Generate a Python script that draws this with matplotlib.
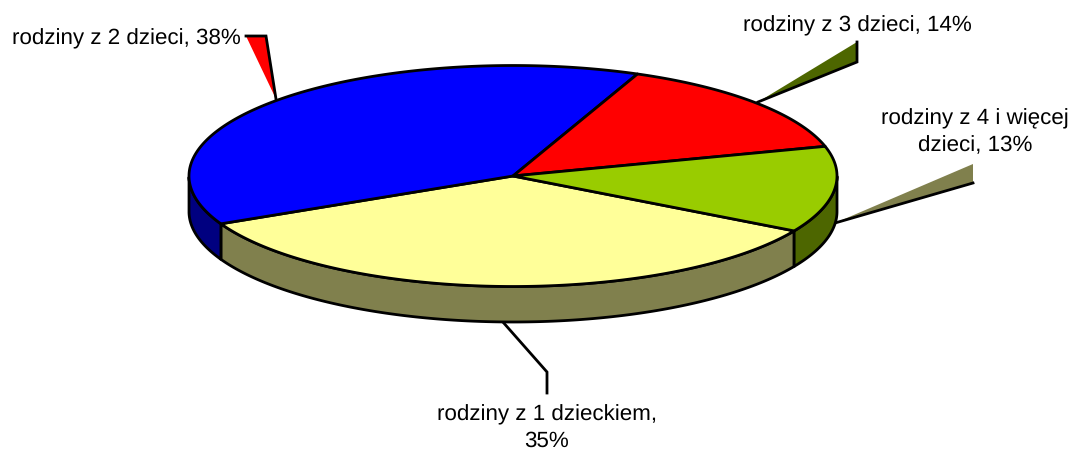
import numpy as np
import matplotlib
matplotlib.use("Agg")
import matplotlib.pyplot as plt

# Data (clockwise from the first slice)
categories = ["rodziny z 1 dzieckiem", "rodziny z 2 dzieci", "rodziny z 3 dzieci", "rodziny z 4 i więcej dzieci"]
shares = [34.6, 38.4, 14.4, 12.6]
labels = ["rodziny z 1 dzieckiem,\n35%", "rodziny z 2 dzieci, 38%", "rodziny z 3 dzieci, 14%", "rodziny z 4 i więcej\ndzieci, 13%"]
top_colors = ["#FFFF99", "#0000FF", "#FF0000", "#99CC00"]
side_colors = ["#80804D", "#000080", "#800000", "#4D6600"]

# Geometry in pixels
W, H = 1072, 450
CX, CY, RX, RY, DEPTH = 513, 176, 324, 110.5, 35.5
START = -29.8
EDGE = 2.0

plt.rcParams["font.family"] = ["Liberation Sans", "DejaVu Sans"]
plt.rcParams["text.hinting"] = "no_hinting"
plt.rcParams["text.hinting_factor"] = 8
fig = plt.figure(figsize=(W / 100, H / 100), dpi=100)
ax = fig.add_axes([0, 0, 1, 1])
ax.set_xlim(0, W)
ax.set_ylim(H, 0)
ax.axis("off")


def px(deg, drop=0):
    a = np.radians(deg)
    return CX + RX * np.cos(a), CY - RY * np.sin(a) + drop


# Leader callouts
ax.fill([246, 266, 276], [36, 36, 99], color="#FF0000", lw=0, zorder=1)
ax.plot([246, 266, 276], [36, 36, 99], color="k", lw=EDGE, zorder=1, solid_joinstyle="miter")
ax.fill([758, 857, 857], [102, 42, 62], color="#4D6600", lw=0, zorder=1)
ax.plot([857, 857, 758], [42, 62, 102], color="k", lw=EDGE, zorder=1, solid_joinstyle="miter")
ax.fill([835, 973, 973], [223, 164, 183], color="#80804D", lw=0, zorder=1)
ax.plot([973, 835], [183, 223], color="k", lw=EDGE, zorder=1)
ax.plot([502, 547, 547], [321, 372, 393], color="k", lw=EDGE, zorder=1, solid_joinstyle="miter")

# Slices
angle = START
spans = []
for share in shares:
    sweep = share / sum(shares) * 360
    spans.append((angle, angle - sweep))
    angle -= sweep

# Side walls (front half only, sin < 0)
for (a0, a1), side in zip(spans, side_colors):
    degs = np.linspace(a1, a0, 200)
    s = np.sin(np.radians(degs))
    degs = degs[s <= 0]
    if len(degs) < 2:
        continue
    tx, ty = px(degs)
    bx, by = px(degs, DEPTH)
    ax.fill(np.r_[tx, bx[::-1]], np.r_[ty, by[::-1]], facecolor=side, edgecolor="k",
            lw=EDGE, zorder=2, joinstyle="round")

# Top faces
for (a0, a1), top in zip(spans, top_colors):
    degs = np.linspace(a0, a1, 300)
    x, y = px(degs)
    ax.fill(np.r_[CX, x], np.r_[CY, y], facecolor=top, edgecolor="k", lw=EDGE, zorder=3,
            joinstyle="round")

# Labels
FS = 16.15
kw = dict(fontsize=FS, color="k", va="baseline", linespacing=1.38, zorder=5)
ax.text(547, 447, labels[0], ha="center", **kw)
ax.text(12, 44, labels[1], ha="left", **kw)
ax.text(857, 31, labels[2], ha="center", **kw)
ax.text(975, 151, labels[3], ha="center", **kw)

fig.savefig("out.png", dpi=100, facecolor="white")
